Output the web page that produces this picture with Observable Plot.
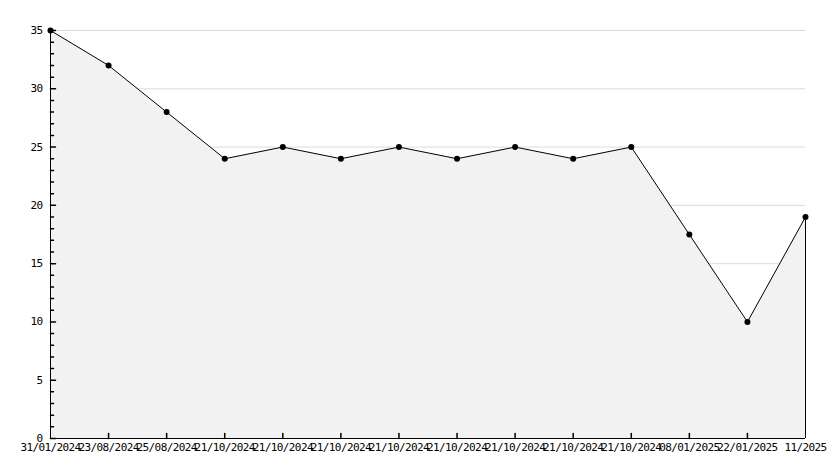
<!DOCTYPE html>
<html>
<head>
<meta charset="utf-8">
<script src="https://cdn.jsdelivr.net/npm/d3@7"></script>
<script src="https://cdn.jsdelivr.net/npm/@observablehq/plot@0.6"></script>
<style>
  html, body { margin: 0; padding: 0; background: #fff; }
  svg { display: block; }
  svg text { letter-spacing: -0.6px; }
</style>
</head>
<body>
<div id="chart"></div>
<script>
const labels = ["31/01/2024","23/08/2024","25/08/2024","21/10/2024","21/10/2024","21/10/2024","21/10/2024","21/10/2024","21/10/2024","21/10/2024","21/10/2024","08/01/2025","22/01/2025","11/2025"];
const values = [35, 32, 28, 24, 25, 24, 25, 24, 25, 24, 25, 17.5, 10, 19];
const majorTicks = [0, 5, 10, 15, 20, 25, 30, 35];
const minorTicks = d3.range(0, 36).filter(v => v % 5 !== 0);

const data = values.map((v, i) => ({i, v}));
const n = values.length;

const tickShape = { draw(ctx, l) { ctx.moveTo(0, 0); ctx.lineTo(0, -l); } };
const font = "'DejaVu Sans Mono', monospace";

const chart = Plot.plot({
  width: 834,
  height: 468,
  marginLeft: 50,
  marginRight: 29,
  marginTop: 30,
  marginBottom: 30,
  style: { fontFamily: font, fontSize: "11px", background: "#fff" },
  x: { domain: [0, n - 1], axis: null, label: null },
  y: { domain: [0, 35], axis: null, label: null },
  marks: [
    Plot.ruleY(majorTicks.filter(t => t > 0), { stroke: "#dcdcdc", strokeWidth: 1 }),
    Plot.areaY(data, { x: "i", y: "v", fill: "#f2f2f2" }),
    Plot.line(data, { x: "i", y: "v", stroke: "#000", strokeWidth: 1 }),
    Plot.ruleX([n - 1], { y1: 0, y2: values[n - 1], stroke: "#000" }),
    Plot.ruleX([0], { stroke: "#000" }),
    Plot.ruleY([0], { stroke: "#000" }),
    Plot.vector(majorTicks, { x: 0, y: d => d, length: 5, rotate: 90, anchor: "start", shape: tickShape, stroke: "#000" }),
    Plot.vector(minorTicks, { x: 0, y: d => d, length: 3, rotate: 90, anchor: "start", shape: tickShape, stroke: "#000" }),
    Plot.vector(d3.range(1, n - 1), { x: d => d, y: 0, length: 5, rotate: 0, anchor: "start", shape: tickShape, stroke: "#000" }),
    Plot.dot(data, { x: "i", y: "v", r: 3, fill: "#000", symbol: "circle" }),
    Plot.axisY({ ticks: majorTicks, tickSize: 0, tickPadding: 8, label: null, fontFamily: font, fontSize: 11, fill: "#000" }),
    Plot.axisX({ ticks: d3.range(0, n), tickSize: 0, tickPadding: 5, label: null, tickFormat: i => labels[i], fontFamily: font, fontSize: 11, fill: "#000" })
  ]
});
document.getElementById("chart").appendChild(chart);
</script>
</body>
</html>
